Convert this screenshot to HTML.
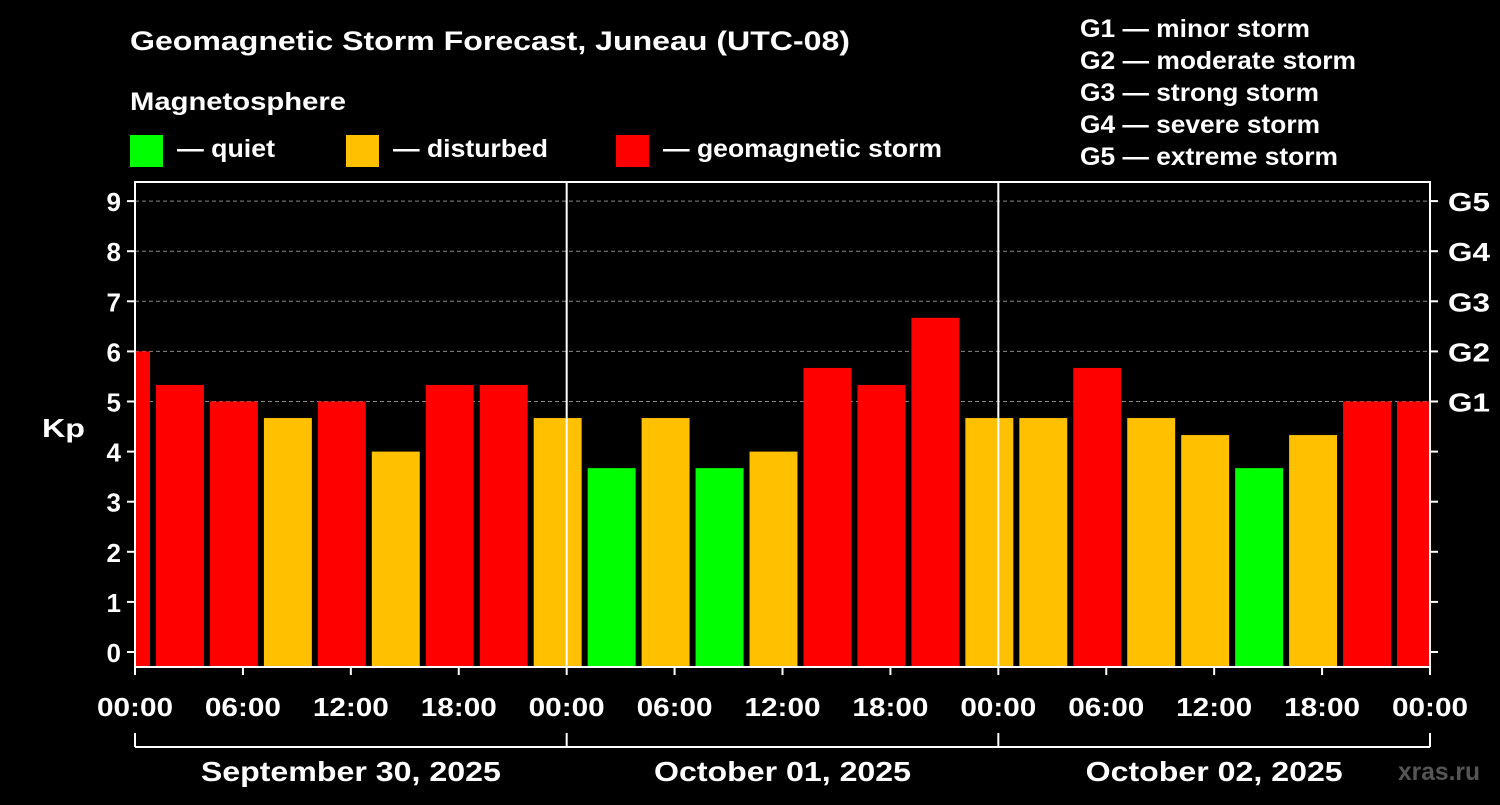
<!DOCTYPE html>
<html><head><meta charset="utf-8"><style>
body{margin:0;background:#000;}
svg text{font-family:"Liberation Sans",Arial,sans-serif;font-weight:bold;fill:#fff;}
</style></head><body>
<svg id="chart" width="1500" height="800" xmlns="http://www.w3.org/2000/svg">
<rect width="1500" height="800" fill="#000"/>
<text x="130" y="50" font-size="27" textLength="720" lengthAdjust="spacingAndGlyphs">Geomagnetic Storm Forecast, Juneau (UTC-08)</text>
<text x="130" y="110" font-size="25" textLength="216" lengthAdjust="spacingAndGlyphs">Magnetosphere</text>
<g><rect x="130" y="135" width="33" height="32" fill="#00ff00"/><text x="177" y="157" font-size="25" textLength="98" lengthAdjust="spacingAndGlyphs">— quiet</text></g>
<g><rect x="346" y="135" width="33" height="32" fill="#ffc000"/><text x="393" y="157" font-size="25" textLength="155" lengthAdjust="spacingAndGlyphs">— disturbed</text></g>
<g><rect x="616" y="135" width="33" height="32" fill="#ff0000"/><text x="663" y="157" font-size="25" textLength="279" lengthAdjust="spacingAndGlyphs">— geomagnetic storm</text></g>
<g font-size="25">
<text x="1080" y="37" textLength="230" lengthAdjust="spacingAndGlyphs">G1 — minor storm</text>
<text x="1080" y="69" textLength="276" lengthAdjust="spacingAndGlyphs">G2 — moderate storm</text>
<text x="1080" y="101" textLength="239" lengthAdjust="spacingAndGlyphs">G3 — strong storm</text>
<text x="1080" y="133" textLength="240" lengthAdjust="spacingAndGlyphs">G4 — severe storm</text>
<text x="1080" y="165" textLength="258" lengthAdjust="spacingAndGlyphs">G5 — extreme storm</text></g>
<g id="plot"></g>
<text x="1398" y="780" font-size="25" textLength="82" lengthAdjust="spacingAndGlyphs" style="fill:#555">xras.ru</text>
</svg>
<script>
const kpValues=[6.0,5.33,5.0,4.67,5.0,4.0,5.33,5.33,4.67,3.67,4.67,3.67,4.0,5.67,5.33,6.67,4.67,4.67,5.67,4.67,4.33,3.67,4.33,5.0,5.0];
const startHour=-2;
const dayLabels=["September 30, 2025","October 01, 2025","October 02, 2025"];
const dayLabelWidths=[300,257,257];
const yTicks=[0,1,2,3,4,5,6,7,8,9];
const gLabels=["G1","G2","G3","G4","G5"];
const xTickLabels=["00:00","06:00","12:00","18:00","00:00","06:00","12:00","18:00","00:00","06:00","12:00","18:00","00:00"];
const L=135,R=1430,T=182,B=667,Y0=652,PK=50.1,PH=(R-L)/72;
const ns="http://www.w3.org/2000/svg",g=document.getElementById('plot');
const y=v=>Y0-v*PK, x=h=>L+h*PH;
function mk(t,a,txt){const e=document.createElementNS(ns,t);for(const k in a)e.setAttribute(k,a[k]);if(txt!==undefined)e.textContent=txt;g.appendChild(e);return e;}
function col(v){return v>=5?"#ff0000":v>=4?"#ffc000":"#00ff00";}
for(let i=0;i<gLabels.length;i++){const v=5+i;
const l=mk('line',{x1:L,x2:R,y1:y(v),y2:y(v),stroke:"#888","stroke-dasharray":"4,3","stroke-width":1});

const t=mk('text',{x:1448,y:y(v)+10,"font-size":26,textLength:42,lengthAdjust:"spacingAndGlyphs"},gLabels[i]);
}
kpValues.forEach((v,i)=>{let h0=startHour+i*3,h1=h0+3;
let x0=Math.max(x(h0)+3,L),x1=Math.min(x(h1)-3,R);
const r=mk('rect',{x:x0,y:y(v),width:x1-x0,height:B-y(v),fill:col(v)});
});
[24,48].forEach(h=>{const l=mk('line',{x1:x(h),x2:x(h),y1:T,y2:B,stroke:"#fff","stroke-width":2});
});
const f=mk('rect',{x:L,y:T,width:R-L,height:B-T,fill:"none",stroke:"#fff","stroke-width":2});

yTicks.forEach(v=>{mk('line',{x1:L-8,x2:L,y1:y(v),y2:y(v),stroke:"#fff","stroke-width":2});
mk('line',{x1:R,x2:R+8,y1:y(v),y2:y(v),stroke:"#fff","stroke-width":2});
const t=mk('text',{x:L-14,y:y(v)+10,"font-size":26,"text-anchor":"end"},String(v));
});
const yl=mk('text',{x:42,y:437,"font-size":26,textLength:43,lengthAdjust:"spacingAndGlyphs"},"Kp");

xTickLabels.forEach((s,i)=>{const xx=x(i*6);
mk('line',{x1:xx,x2:xx,y1:B,y2:B+8,stroke:"#fff","stroke-width":2});
const t=mk('text',{x:xx-38,y:716,"font-size":26,textLength:76,lengthAdjust:"spacingAndGlyphs"},s);
});
mk('line',{x1:L,x2:R,y1:747,y2:747,stroke:"#fff","stroke-width":2});
[0,24,48,72].forEach(h=>mk('line',{x1:x(h),x2:x(h),y1:733,y2:747,stroke:"#fff","stroke-width":2}));
dayLabels.forEach((s,i)=>{const w=dayLabelWidths[i];const t=mk('text',{x:x(i*24+12)-w/2,y:781,"font-size":28,textLength:w,lengthAdjust:"spacingAndGlyphs"},s);
});
</script>
</body></html>
